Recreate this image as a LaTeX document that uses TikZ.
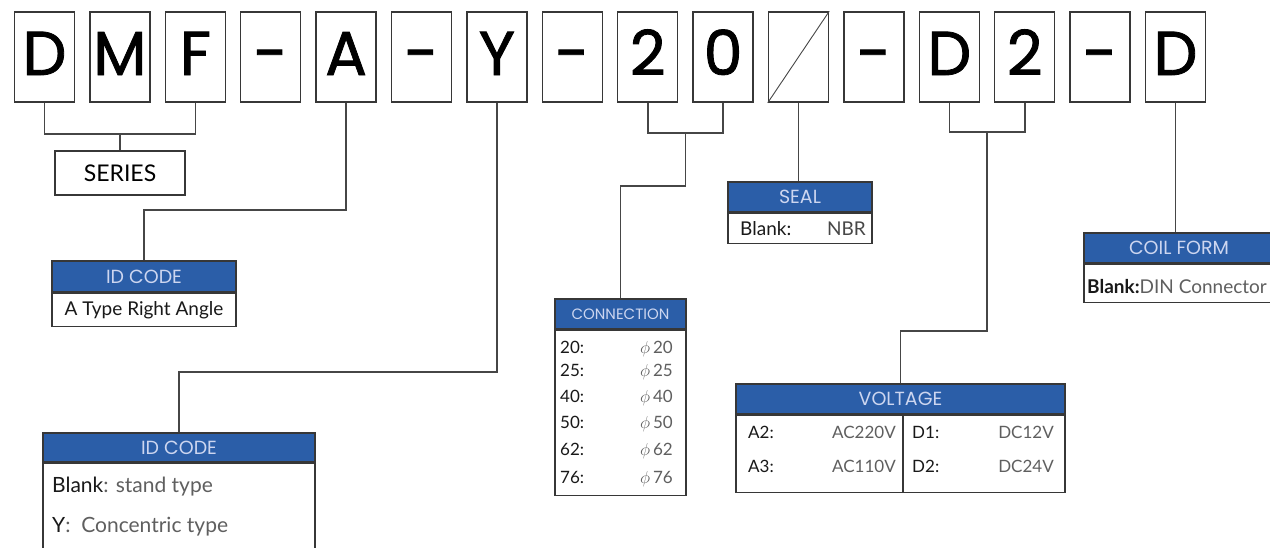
\documentclass[tikz,border=0pt]{standalone}
\usepackage{fontspec}
\setmainfont{Lato}
\newfontfamily\geofont{Poppins}
\newfontfamily\geobold[FakeBold=1.3]{Poppins}
\usetikzlibrary{positioning,calc}
\definecolor{boxEdge}{RGB}{55,55,55}
\definecolor{linkGray}{RGB}{70,70,70}
\definecolor{headBlue}{RGB}{43,94,168}
\definecolor{headText}{RGB}{205,214,240}
\definecolor{valGray}{RGB}{95,95,95}
\definecolor{keyDark}{RGB}{25,25,25}

\begin{document}
\begin{tikzpicture}[
  x=1pt,y=-1pt,
  letter/.style={draw=boxEdge,line width=1.5pt,minimum width=60pt,minimum height=90pt,
                 inner sep=0pt,text height=43pt,text depth=7pt,
                 font=\geobold\fontsize{62}{62}\selectfont},
  head/.style={draw=boxEdge,fill=headBlue,line width=1.3pt,inner sep=0pt,
               text=headText,font=\geofont\fontsize{19}{19}\selectfont},
  body/.style={draw=boxEdge,fill=white,line width=1.3pt,inner sep=0pt},
  link/.style={draw=linkGray,line width=1.6pt},
  key/.style={text=keyDark,inner sep=0pt,font=\fontsize{17}{17}\selectfont},
  val/.style={text=valGray,inner sep=0pt,font=\fontsize{17}{17}\selectfont}
]

% ---- page ----
\fill[white] (0,0) rectangle (1270,547);
\useasboundingbox (0,0) rectangle (1270,547);

% ---- code letters (top row) ----
\foreach \ch [count=\i] in {D,M,F,-,A,-,Y,-,2,0,{},-,D,2,-,D}{
  \node[letter] (b\i) at ({44.5+75.4*(\i-1)},57) {\ch};
}
\draw[linkGray,line width=0.9pt] (b11.south west) -- (b11.north east);

% ---- series ----
\node[draw=boxEdge,line width=1.5pt,minimum width=130pt,minimum height=44pt,
      inner sep=0pt,font=\fontsize{23}{23}\selectfont] (series) at (120,173) {SERIES};

% ---- id code (A) ----
\node[head,minimum width=184pt,minimum height=31pt] (idAh) at (144,276.5) {ID CODE};
\node[body,minimum width=184pt,minimum height=33pt,anchor=north,
      font=\fontsize{19}{19}\selectfont,text=keyDark] (idAb) at (idAh.south)
  {A Type Right Angle};

% ---- id code (Y) ----
\node[head,minimum width=272pt,minimum height=29pt] (idYh) at (179,447.5) {ID CODE};
\node[body,minimum width=272pt,minimum height=86pt,anchor=north] (idYb) at (idYh.south) {};
\node[val,anchor=base west,font=\fontsize{21}{21}\selectfont] (idY1) at (52,492)
  {\textcolor{keyDark}{Blank}: stand type};
\node[val,anchor=base west,font=\fontsize{21}{21}\selectfont] (idY2) at (52,532)
  {\textcolor{keyDark}{Y}:\ \ Concentric type};

% ---- connection ----
\node[head,minimum width=131pt,minimum height=30pt,
      font=\geofont\fontsize{15}{15}\selectfont] (conh) at (620.5,314) {CONNECTION};
\node[body,minimum width=131pt,minimum height=165pt,anchor=north] (conb) at (conh.south) {};
\foreach \c/\y in {20/353,25/376,40/402,50/428,62/455,76/483}{
  \node[key,anchor=base west] (ck\c) at (560,\y) {\c:};
  \node[val,anchor=base east] (cv\c) at (673,\y) {$\phi$\,\c};
}

% ---- seal ----
\node[head,minimum width=144pt,minimum height=30pt] (sealh) at (800,197) {SEAL};
\node[body,minimum width=144pt,minimum height=30pt,anchor=north] (sealb) at (sealh.south) {};
\node[key,anchor=base west,font=\fontsize{19}{19}\selectfont] (sealk) at (740,235) {Blank:};
\node[val,anchor=base east,font=\fontsize{19}{19}\selectfont,text=keyDark!80] (sealv) at (866,235) {NBR};

% ---- voltage ----
\node[head,minimum width=329pt,minimum height=30pt] (volth) at (900.5,399) {VOLTAGE};
\node[body,minimum width=167pt,minimum height=77pt,anchor=north west] (voltL) at (volth.south west) {};
\node[body,minimum width=162pt,minimum height=77pt,anchor=north east] (voltR) at (volth.south east) {};
\node[key,anchor=base west] (va2) at (748,438) {A2:};
\node[val,anchor=base east] (vv2) at (896,438) {AC220V};
\node[key,anchor=base west] (va3) at (748,472) {A3:};
\node[val,anchor=base east] (vv3) at (896,472) {AC110V};
\node[key,anchor=base west] (vd1) at (912,438) {D1:};
\node[val,anchor=base east] (vw1) at (1054,438) {DC12V};
\node[key,anchor=base west] (vd2) at (912,472) {D2:};
\node[val,anchor=base east] (vw2) at (1054,472) {DC24V};

% ---- coil form ----
\node[head,minimum width=190pt,minimum height=30pt] (coilh) at (1179,248) {COIL FORM};
\node[body,minimum width=190pt,minimum height=38pt,anchor=north] (coilb) at (coilh.south) {};
\node[val,anchor=base west,font=\fontsize{19}{19}\selectfont] (coilk) at (1087,293)
  {\textcolor{keyDark}{\bfseries Blank:}DIN Connector};

% ---- connectors ----
\draw[link] (b1.south) -- ++(0,31) coordinate (dmfL) -| (b3.south);
\draw[link] (series.north) -- (series.north |- dmfL);

\draw[link] (b5.south) -- ++(0,107) -| (idAh.north);
\draw[link] (b7.south) -- ++(0,269) -| (idYh.north);

\draw[link] (b9.south) -- ++(0,30) coordinate (conL) -| (b10.south);
\coordinate (conM) at ($(conL)!0.5!(conL -| b10.south)$);
\draw[link] (conM) -- ++(0,53) -| (conh.north);

\draw[link] (b11.south) -- (b11.south |- sealh.north);

\draw[link] (b13.south) -- ++(0,29) coordinate (volL) -| (b14.south);
\coordinate (volM) at ($(volL)!0.5!(volL -| b14.south)$);
\draw[link] (volM) -- ++(0,199) -| (volth.north);

\draw[link] (b16.south) -- (b16.south |- coilh.north);

\end{tikzpicture}
\end{document}
